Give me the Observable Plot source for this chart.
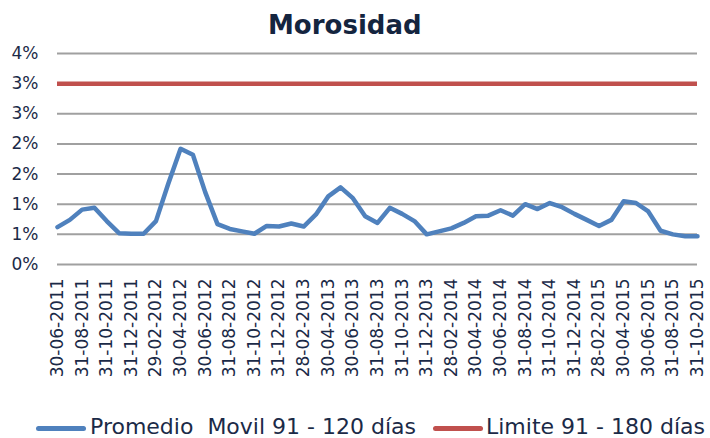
<!DOCTYPE html>
<html>
<head>
<meta charset="utf-8">
<script src="https://cdn.jsdelivr.net/npm/d3@7"></script>
<script src="https://cdn.jsdelivr.net/npm/@observablehq/plot@0.6"></script>
<style>
  html, body { margin: 0; padding: 0; background: #fff; }
  body { width: 710px; font-family: "DejaVu Sans", Verdana, sans-serif; }
  #title { position: relative; height: 40px; }
  #title span { position: absolute; left: 268px; top: 12px; font-size: 26px; line-height: 26px; font-weight: bold; color: #14253f; white-space: nowrap; }
  #chart svg { overflow: visible; display: block; }
  #legend { position: relative; height: 24px; }
  #legend .sw { position: absolute; height: 5px; border-radius: 2.5px; top: 12px; }
  #legend .lb { position: absolute; top: 1px; font-size: 22px; line-height: 23px; color: #1b2a47; white-space: pre; }
</style>
</head>
<body>
<div id="title"><span>Morosidad</span></div>
<div id="chart"></div>
<div id="legend">
  <div class="sw" style="left:36px;width:50px;background:#4f81bd"></div>
  <span class="lb" id="lb1" style="left:90px"></span>
  <div class="sw" style="left:433px;width:50px;background:#c0504d"></div>
  <span class="lb" id="lb2" style="left:486px"></span>
</div>
<script>
const dates = [
  "30-06-2011","31-07-2011","31-08-2011","30-09-2011","31-10-2011","30-11-2011","31-12-2011",
  "31-01-2012","29-02-2012","31-03-2012","30-04-2012","31-05-2012","30-06-2012","31-07-2012","31-08-2012","30-09-2012","31-10-2012","30-11-2012","31-12-2012",
  "31-01-2013","28-02-2013","31-03-2013","30-04-2013","31-05-2013","30-06-2013","31-07-2013","31-08-2013","30-09-2013","31-10-2013","30-11-2013","31-12-2013",
  "31-01-2014","28-02-2014","31-03-2014","30-04-2014","31-05-2014","30-06-2014","31-07-2014","31-08-2014","30-09-2014","31-10-2014","30-11-2014","31-12-2014",
  "31-01-2015","28-02-2015","31-03-2015","30-04-2015","31-05-2015","30-06-2015","31-07-2015","31-08-2015","30-09-2015","31-10-2015"
];
const promedio = [
  0.62, 0.74, 0.91, 0.94, 0.72, 0.52, 0.51,
  0.51, 0.72, 1.34, 1.92, 1.82, 1.20, 0.67, 0.59, 0.55, 0.51, 0.64, 0.63,
  0.68, 0.63, 0.83, 1.13, 1.28, 1.10, 0.80, 0.69, 0.94, 0.84, 0.72, 0.50,
  0.55, 0.60, 0.69, 0.80, 0.81, 0.90, 0.81, 1.00, 0.92, 1.02, 0.95, 0.84,
  0.74, 0.64, 0.74, 1.05, 1.02, 0.88, 0.56, 0.50, 0.47, 0.47
];
const limite = 3.0;
const yTicks = [0, 0.5, 1.0, 1.5, 2.0, 2.5, 3.0, 3.5];
const yTickLabels = ["0%", "1%", "1%", "2%", "2%", "3%", "3%", "4%"];
const xTickIndex = dates.map((d, i) => i).filter(i => i % 2 === 0);
const seriesNames = ["Promedio  Movil 91 - 120 días", "Limite 91 - 180 días"];

document.getElementById("lb1").textContent = seriesNames[0];
document.getElementById("lb2").textContent = seriesNames[1];

const data = dates.map((d, i) => ({idx: i, date: d, value: promedio[i]}));

const chart = Plot.plot({
  width: 710,
  height: 374,
  marginLeft: 57,
  marginRight: 13,
  marginTop: 13,
  marginBottom: 150,
  style: {fontFamily: "DejaVu Sans, Verdana, sans-serif", fontSize: "17px", color: "#1b2a47", background: "transparent", overflow: "visible"},
  x: {type: "linear", domain: [0, dates.length - 1]},
  y: {domain: [0, 3.5]},
  marks: [
    Plot.ruleY(yTicks, {stroke: "#a0a0a0", strokeWidth: 2}),
    Plot.ruleY([limite], {stroke: "#c0504d", strokeWidth: 4.5}),
    Plot.line(data, {x: "idx", y: "value", stroke: "#4f81bd", strokeWidth: 4.5, strokeLinejoin: "round"}),
    Plot.axisY({ticks: yTicks, tickFormat: d => yTickLabels[yTicks.indexOf(d)], tickSize: 0, tickPadding: 19, label: null}),
    Plot.axisX({ticks: xTickIndex, tickFormat: i => dates[i], tickSize: 0, tickPadding: 14, tickRotate: -90, label: null})
  ]
});
document.getElementById("chart").appendChild(chart);
</script>
</body>
</html>
